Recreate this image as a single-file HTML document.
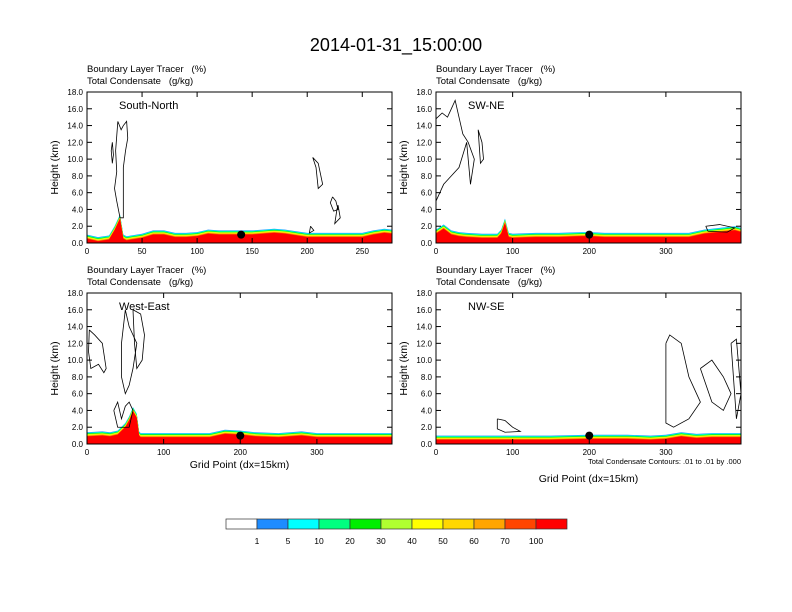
<!DOCTYPE html>
<html><head><meta charset="utf-8"><style>
body{margin:0;background:#fff}
svg{display:block;font-family:"Liberation Sans",sans-serif}
text{white-space:pre}
</style></head><body>
<svg id="c" width="792" height="612" viewBox="0 0 792 612" xml:space="preserve">
<text x="396" y="51" font-size="18" text-anchor="middle">2014-01-31_15:00:00</text>
</svg>
<script>
const colors=["#ffffff","#1e8cff","#00ffff","#00ff80","#00ee00","#b0ff30","#ffff00","#ffd700","#ffa500","#ff4500","#ff0000"];
const cbLabels=["1","5","10","20","30","40","50","60","70","100"];
const yTicks=[0,2,4,6,8,10,12,14,16,18];
const panelNames=["South-North","SW-NE","West-East","NW-SE"];
const xTicksTL=[0,50,100,150,200,250];
const xTicksOther=[0,100,200,300];
const xMax=[277,398,398,398];
// boundary layer tracer top (km) sampled along grid
const gridTL=[0,10,20,25,30,33,36,40,50,60,70,80,90,100,110,120,130,140,150,160,170,180,190,200,210,220,230,240,250,260,270,277];
const blTL=[1.0,0.7,0.9,2.0,3.4,1.0,0.8,0.9,1.1,1.5,1.5,1.2,1.2,1.3,1.6,1.5,1.5,1.5,1.5,1.6,1.7,1.6,1.4,1.2,1.2,1.2,1.2,1.2,1.2,1.5,1.7,1.6];
const gridTR=[0,10,20,30,40,60,80,85,90,95,100,130,160,190,200,220,250,280,300,330,350,370,390,398];
const blTR=[1.6,2.2,1.5,1.3,1.2,1.1,1.1,1.6,2.9,1.2,1.1,1.2,1.2,1.3,1.3,1.2,1.2,1.2,1.2,1.2,1.6,1.8,2.0,1.8];
const gridBL=[0,20,30,40,50,55,60,65,68,70,80,100,130,160,180,200,220,250,280,300,330,360,390,398];
const blBL=[1.4,1.5,1.4,1.6,2.5,3.3,4.4,3.6,1.5,1.3,1.3,1.3,1.3,1.3,1.7,1.6,1.4,1.3,1.5,1.3,1.3,1.3,1.3,1.3];
const gridBR=[0,50,100,150,200,250,280,300,320,340,360,380,398];
const blBR=[1.0,1.0,1.0,1.0,1.1,1.1,1.0,1.1,1.4,1.2,1.3,1.3,1.3];
// condensate contours (grid, km)
const contTL=[[[28,14.5],[31,13.5],[33,14],[36,14.5],[37,12.5],[35,11],[33,9],[33,6],[33,3],[30,3],[27,5],[25,6.5],[27,8.5],[26,11],[28,14.5]],[[23,12],[24,10.5],[23,9.5],[22,11],[23,12]],[[205,10.2],[210,9.5],[214,7],[210,6.5],[208,9],[205,10.2]],[[223,5.5],[226,5],[228,4],[224,3.8],[221,4.8],[223,5.5]],[[228,4.5],[230,3],[225,2.3],[227,4],[228,4.5]],[[203,2],[206,1.5],[202,1.2],[203,2]]];
const contTR=[[[0,14.8],[8,15.5],[15,15],[20,16],[25,17],[30,15],[35,13],[42,12],[50,10],[45,7],[40,12],[30,9],[20,8],[10,7],[5,6],[0,5]],[[55,13.5],[60,12],[62,10],[58,9.5],[55,13.5]],[[352,2],[370,2.2],[390,1.8],[380,1.3],[355,1.4],[352,2]]];
const contBL=[[[3,13.6],[10,13],[20,12],[25,9],[22,8.5],[15,9.5],[5,9],[2,11],[3,13.6]],[[50,16],[55,14],[65,12],[60,9],[55,7],[50,6],[45,8],[45,12],[50,16]],[[60,16],[70,15.5],[75,13],[72,10],[65,9],[62,12],[60,16]],[[35,4],[40,5],[45,3],[50,4.5],[55,5],[60,4],[55,2],[40,2],[35,4]]];
const contBR=[[[80,3],[90,2.8],[100,2],[110,1.5],[90,1.4],[80,1.8],[80,3]],[[300,12],[305,13],[320,12],[330,8],[340,6],[345,5],[330,3],[310,2],[300,2.5],[300,12]],[[345,9],[360,10],[375,8],[385,6],[375,4],[360,5],[345,9]],[[385,12],[392,12.5],[398,6],[392,3],[385,12]]];
const dotX=[140,200,200,200];
const dotY=[1.0,1.0,1.0,1.0];

const svg=document.getElementById('c');
const NS="http://www.w3.org/2000/svg";
function mk(t,a,p){const e=document.createElementNS(NS,t);for(const k in a)e.setAttribute(k,a[k]);(p||svg).appendChild(e);return e;}

const panels=[
 {x0:87,y0:92,grid:gridTL,bl:blTL,cont:contTL,ticks:xTicksTL,xlab:0},
 {x0:436,y0:92,grid:gridTR,bl:blTR,cont:contTR,ticks:xTicksOther,xlab:0},
 {x0:87,y0:293,grid:gridBL,bl:blBL,cont:contBL,ticks:xTicksOther,xlab:468},
 {x0:436,y0:293,grid:gridBR,bl:blBR,cont:contBR,ticks:xTicksOther,xlab:482}];
const W=305,H=151;
panels.forEach((p,i)=>{
 const g=mk('g',{});
 
 
 const sx=v=>p.x0+v/xMax[i]*W, sy=v=>p.y0+H-v/18*H;
 let t=mk('text',{x:p.x0,y:p.y0-20,'font-size':9.5},g);t.textContent='Boundary Layer Tracer   (%)';
 
 t=mk('text',{x:p.x0,y:p.y0-8,'font-size':9.5},g);t.textContent='Total Condensate   (g/kg)';
 
 for(let k=1;k<colors.length;k++){
  const off=(k-1)*0.055;
  let pts=p.grid.map((x,j)=>sx(x)+','+sy(Math.max(0,p.bl[j]-off))).join(' ');
  pts+=' '+sx(p.grid[p.grid.length-1])+','+sy(0)+' '+sx(0)+','+sy(0);
  const b=mk('polygon',{points:pts,fill:colors[k]},g);
  
  
 }
 p.cont.forEach(c=>{
  const l=mk('polyline',{points:c.map(q=>sx(q[0])+','+sy(q[1])).join(' '),fill:'none',stroke:'#000','stroke-width':0.8},g);
  
  
 });
 const d=mk('circle',{cx:sx(dotX[i]),cy:sy(dotY[i]),r:4,fill:'#000'},g);
 
 const fr=mk('rect',{x:p.x0,y:p.y0,width:W,height:H,fill:'none',stroke:'#000','stroke-width':1},g);
 
 yTicks.forEach(v=>{
  const y=sy(v);
  mk('line',{x1:p.x0,y1:y,x2:p.x0+5,y2:y,stroke:'#000'},g);
  mk('line',{x1:p.x0+W,y1:y,x2:p.x0+W-5,y2:y,stroke:'#000'},g);
  const tt=mk('text',{x:p.x0-4,y:y+3,'font-size':8,'text-anchor':'end'},g);tt.textContent=v.toFixed(1);
  
 });
 p.ticks.forEach(v=>{
  const x=sx(v);
  mk('line',{x1:x,y1:p.y0+H,x2:x,y2:p.y0+H-5,stroke:'#000'},g);
  mk('line',{x1:x,y1:p.y0,x2:x,y2:p.y0+5,stroke:'#000'},g);
  const tt=mk('text',{x:x,y:p.y0+H+11,'font-size':8,'text-anchor':'middle'},g);tt.textContent=v;
  
 });
 t=mk('text',{x:p.x0+32,y:p.y0+17,'font-size':11},g);t.textContent=panelNames[i];
 
 t=mk('text',{x:0,y:0,'font-size':10.5,'text-anchor':'middle',transform:`translate(${p.x0-29},${p.y0+H/2}) rotate(-90)`},g);t.textContent='Height (km)';
 
 if(p.xlab){t=mk('text',{x:p.x0+W/2,y:p.xlab,'font-size':10.5,'text-anchor':'middle'},g);t.textContent='Grid Point (dx=15km)';
  }
});
let n=mk('text',{x:741,y:464,'font-size':7.5,'text-anchor':'end'});n.textContent='Total Condensate Contours: .01 to .01 by .000';

const cb=mk('g',{});
colors.forEach((c,k)=>{const r=mk('rect',{x:226+k*31,y:519,width:31,height:10,fill:c,stroke:'#333','stroke-width':0.7},cb);
 });
cbLabels.forEach((s,k)=>{const tt=mk('text',{x:226+(k+1)*31,y:544,'font-size':8.5,'text-anchor':'middle'},cb);tt.textContent=s;
 });
</script>
</body></html>
